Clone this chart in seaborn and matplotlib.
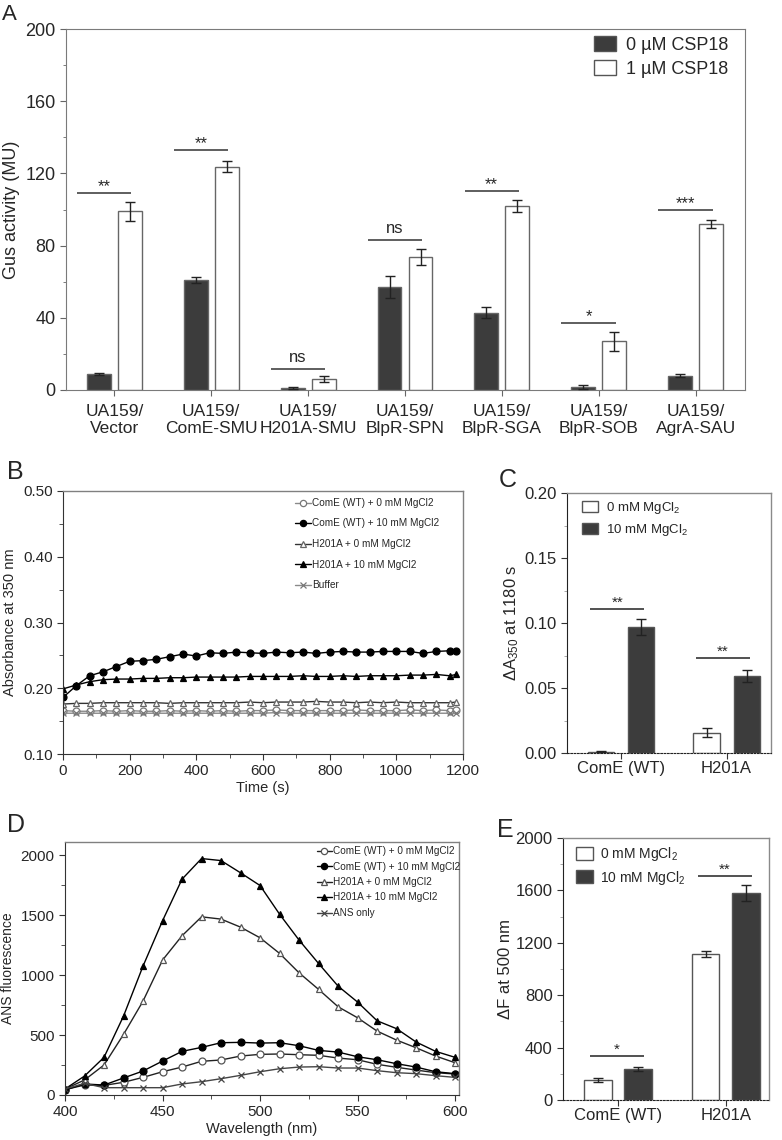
import numpy as np
import pandas as pd
import matplotlib
matplotlib.use('Agg')
import matplotlib.pyplot as plt
import matplotlib.patches as mpatches
from matplotlib.ticker import MultipleLocator
import seaborn as sns

# ---- Panel A data ----
strains = ['UA159/\nVector', 'UA159/\nComE-SMU', 'UA159/\nH201A-SMU', 'UA159/\nBlpR-SPN',
           'UA159/\nBlpR-SGA', 'UA159/\nBlpR-SOB', 'UA159/\nAgrA-SAU']
csp_levels = ['0 µM CSP18', '1 µM CSP18']
gus_0 = [8.9, 61.0, 0.9, 56.9, 42.9, 1.8, 8.0]
gus_0_err = [0.4, 1.8, 0.5, 6.1, 2.9, 1.0, 0.7]
gus_1 = [98.9, 123.8, 6.1, 73.8, 101.8, 27.0, 91.9]
gus_1_err = [5.4, 3.3, 1.7, 4.4, 3.2, 5.3, 2.3]
sig_a = ['**', '**', 'ns', 'ns', '**', '*', '***']
sig_a_y = [109.1, 132.7, 11.6, 83.2, 110.2, 37.0, 99.8]

# ---- Panel B data ----
time_b = [0, 40, 80, 120, 160, 200, 240, 280, 320, 360, 400, 440, 480, 520, 560, 600,
          640, 680, 720, 760, 800, 840, 880, 920, 960, 1000, 1040, 1080, 1120, 1160, 1180]
b_come_0 = [0.166, 0.165, 0.165, 0.166, 0.165, 0.166, 0.165, 0.165, 0.166, 0.165, 0.166,
            0.165, 0.166, 0.165, 0.166, 0.166, 0.167, 0.166, 0.166, 0.166, 0.166, 0.166,
            0.167, 0.166, 0.166, 0.166, 0.167, 0.166, 0.167, 0.166, 0.167]
b_come_10 = [0.186, 0.204, 0.219, 0.225, 0.233, 0.241, 0.242, 0.244, 0.248, 0.252, 0.249,
             0.254, 0.253, 0.255, 0.254, 0.253, 0.255, 0.254, 0.255, 0.253, 0.255, 0.256,
             0.255, 0.255, 0.256, 0.256, 0.256, 0.253, 0.256, 0.257, 0.257]
b_h201a_0 = [0.176, 0.177, 0.177, 0.178, 0.178, 0.178, 0.178, 0.178, 0.177, 0.178, 0.178,
             0.178, 0.178, 0.178, 0.179, 0.178, 0.179, 0.179, 0.179, 0.180, 0.179, 0.179,
             0.178, 0.179, 0.178, 0.179, 0.178, 0.178, 0.178, 0.178, 0.179]
b_h201a_10 = [0.199, 0.205, 0.210, 0.213, 0.214, 0.214, 0.215, 0.215, 0.216, 0.216, 0.217,
              0.217, 0.217, 0.217, 0.218, 0.218, 0.218, 0.218, 0.219, 0.218, 0.218, 0.219,
              0.218, 0.219, 0.219, 0.219, 0.220, 0.220, 0.221, 0.219, 0.221]
b_buffer = [0.162, 0.162, 0.162, 0.162, 0.162, 0.162, 0.162, 0.162, 0.162, 0.162, 0.162,
            0.162, 0.162, 0.162, 0.162, 0.162, 0.163, 0.162, 0.162, 0.162, 0.162, 0.162,
            0.162, 0.162, 0.162, 0.162, 0.162, 0.162, 0.162, 0.162, 0.162]

# ---- Panel C data ----
proteins = ['ComE (WT)', 'H201A']
mg_levels = ['0 mM MgCl$_2$', '10 mM MgCl$_2$']
dA_0 = [0.001, 0.0155]
dA_0_err = [0.0004, 0.0035]
dA_10 = [0.0967, 0.0592]
dA_10_err = [0.0062, 0.0046]
sig_c = ['**', '**']
sig_c_y = [0.111, 0.0733]

# ---- Panel D data ----
wavelength = [400, 410, 420, 430, 440, 450, 460, 470, 480, 490, 500, 510, 520, 530, 540,
              550, 560, 570, 580, 590, 600]
d_come_0 = [45, 83, 80, 106, 147, 194, 233, 281, 292, 325, 339, 342, 336, 331, 308, 294,
            256, 231, 208, 186, 175]
d_come_10 = [42, 92, 83, 142, 200, 283, 364, 397, 436, 439, 433, 436, 411, 372, 358, 319,
             294, 261, 233, 194, 178]
d_h201a_0 = [50, 125, 250, 505, 783, 1125, 1328, 1486, 1467, 1400, 1311, 1181, 1019, 881,
             736, 644, 533, 458, 394, 325, 269]
d_h201a_10 = [50, 158, 314, 658, 1075, 1453, 1800, 1972, 1955, 1853, 1747, 1508, 1292,
              1097, 908, 775, 619, 553, 442, 364, 314]
d_ans = [50, 97, 61, 61, 61, 61, 92, 111, 136, 164, 194, 219, 233, 236, 225, 225, 203,
         186, 178, 161, 147]

# ---- Panel E data ----
dF_0 = [150, 1116]
dF_0_err = [16, 22]
dF_10 = [236, 1578]
dF_10_err = [15, 60]
sig_e = ['*', '**']
sig_e_y = [339, 1712]

line_labels_b = ['ComE (WT) + 0 mM MgCl2', 'ComE (WT) + 10 mM MgCl2',
                 'H201A + 0 mM MgCl2', 'H201A + 10 mM MgCl2', 'Buffer']
line_labels_d = ['ComE (WT) + 0 mM MgCl2', 'ComE (WT) + 10 mM MgCl2',
                 'H201A + 0 mM MgCl2', 'H201A + 10 mM MgCl2', 'ANS only']

sns.set_style('ticks')
plt.rcParams['font.family'] = ['Liberation Sans', 'DejaVu Sans']
plt.rcParams['mathtext.fontset'] = 'custom'
plt.rcParams['mathtext.rm'] = 'Liberation Sans'
plt.rcParams['mathtext.it'] = 'Liberation Sans:italic'
plt.rcParams['mathtext.bf'] = 'Liberation Sans:bold'

W, H = 782, 1140
DARK = '#3c3c3c'
fig = plt.figure(figsize=(W / 100, H / 100), dpi=100)


def px_axes(l, t, r, b):
    return fig.add_axes([l / W, 1 - b / H, (r - l) / W, (b - t) / H])


def fig_pt(x, y):
    return (x / W, 1 - y / H)


def style_box(ax, left='#333333', other='#808080'):
    for s in ['top', 'right']:
        ax.spines[s].set_color(other)
        ax.spines[s].set_linewidth(1.0)
    ax.spines['left'].set_color(left)
    ax.spines['bottom'].set_color(left)


def add_errbars(ax, errs_by_level):
    for cont, errs in zip(ax.containers, errs_by_level):
        xs = [p.get_x() + p.get_width() / 2 for p in cont.patches]
        ys = [p.get_height() for p in cont.patches]
        ax.errorbar(xs, ys, yerr=errs, fmt='none', ecolor='#222222',
                    elinewidth=1.0, capsize=3.5, capthick=1.0, zorder=4)


def add_sig(ax, labels, ys, lo, hi, fs, color='#333333'):
    for i, (lab, y) in enumerate(zip(labels, ys)):
        ax.plot([i + lo, i + hi], [y, y], color=color, lw=1.1, solid_capstyle='butt')
        dy = 5 if lab == 'ns' else 1.5
        ax.annotate(lab, xy=(i + (lo + hi) / 2, y), xytext=(0, dy),
                    textcoords='offset points', ha='center', va='baseline', fontsize=fs)


# ================= Panel A =================
axA = px_axes(66, 29, 745, 390)
dfA = pd.DataFrame({
    'strain': strains * 2,
    'csp': [csp_levels[0]] * len(strains) + [csp_levels[1]] * len(strains),
    'gus': gus_0 + gus_1,
})
sns.barplot(data=dfA, x='strain', y='gus', hue='csp', order=strains, hue_order=csp_levels,
            palette={csp_levels[0]: DARK, csp_levels[1]: 'white'}, width=0.64, gap=0.23,
            errorbar=None, edgecolor='#666666', linewidth=1.0, ax=axA, legend=False)
add_errbars(axA, [gus_0_err, gus_1_err])
add_sig(axA, sig_a, sig_a_y, -0.385, 0.175, 12)
axA.set_xlim(-0.5, 6.51)
axA.set_ylim(0, 200)
axA.yaxis.set_major_locator(MultipleLocator(40))
axA.yaxis.set_minor_locator(MultipleLocator(20))
axA.set_xticks(range(len(strains)))
axA.set_xticklabels(strains, fontsize=12.5, linespacing=1.2)
axA.tick_params(axis='y', labelsize=13, length=4, color='#666666')
axA.tick_params(axis='y', which='minor', length=2.5, color='#666666')
axA.tick_params(axis='x', length=4, color='#666666', pad=6)
axA.set_xlabel('')
axA.set_ylabel('Gus activity (MU)', fontsize=13)
for s in axA.spines.values():
    s.set_color('#7a7a7a')
hA = [mpatches.Patch(facecolor=DARK, edgecolor='#555555'),
      mpatches.Patch(facecolor='white', edgecolor='#555555')]
axA.legend(hA, csp_levels, loc='upper left', bbox_to_anchor=fig_pt(594, 36),
           bbox_transform=fig.transFigure, frameon=False, fontsize=13,
           handlelength=1.2, handleheight=0.9, handletextpad=0.6, labelspacing=0.35,
           borderpad=0, borderaxespad=0)

# ================= Panel B =================
axB = px_axes(63, 491, 463, 754)
b_series = [b_come_0, b_come_10, b_h201a_0, b_h201a_10, b_buffer]
b_styles = [
    dict(marker='o', color='#8a8a8a', markerfacecolor='white', markeredgecolor='#777777'),
    dict(marker='o', color='black', markerfacecolor='black', markeredgecolor='black'),
    dict(marker='^', color='#333333', markerfacecolor='white', markeredgecolor='#666666'),
    dict(marker='^', color='black', markerfacecolor='black', markeredgecolor='black'),
    dict(marker='x', color='#8a8a8a', markerfacecolor='none', markeredgecolor='#777777'),
]
for vals, lab, st in zip(b_series, line_labels_b, b_styles):
    sns.lineplot(x=time_b, y=vals, ax=axB, label=lab, markersize=5, linewidth=1.0,
                 markeredgewidth=0.9, **st)
axB.set_xlim(0, 1200)
axB.set_ylim(0.10, 0.50)
axB.xaxis.set_major_locator(MultipleLocator(200))
axB.xaxis.set_minor_locator(MultipleLocator(100))
axB.yaxis.set_major_locator(MultipleLocator(0.10))
axB.yaxis.set_minor_locator(MultipleLocator(0.05))
axB.yaxis.set_major_formatter(matplotlib.ticker.FormatStrFormatter('%.2f'))
axB.tick_params(labelsize=11, length=4, color='#333333')
axB.tick_params(which='minor', length=3, color='#333333')
axB.set_xlabel('Time (s)', fontsize=10.5, labelpad=2)
axB.set_ylabel('Absorbance at 350 nm', fontsize=10.5)
style_box(axB, left='#333333', other='#808080')
axB.legend(loc='upper left', bbox_to_anchor=fig_pt(295, 498), bbox_transform=fig.transFigure,
           frameon=False, fontsize=7.2, handlelength=1.6, handletextpad=0.15,
           labelspacing=1.05, borderpad=0, borderaxespad=0, markerscale=0.9)

# ================= Panel C =================
axC = px_axes(567, 493, 771, 753)
dfC = pd.DataFrame({
    'protein': proteins * 2,
    'mg': [mg_levels[0]] * 2 + [mg_levels[1]] * 2,
    'val': dA_0 + dA_10,
})
sns.barplot(data=dfC, x='protein', y='val', hue='mg', order=proteins, hue_order=mg_levels,
            palette={mg_levels[0]: 'white', mg_levels[1]: DARK}, width=0.76, gap=0.35,
            errorbar=None, edgecolor='#555555', linewidth=1.0, ax=axC, legend=False)
add_errbars(axC, [dA_0_err, dA_10_err])
add_sig(axC, sig_c, sig_c_y, -0.29, 0.22, 11, color='#222222')
axC.set_xlim(-0.51, 1.42)
axC.set_ylim(0, 0.20)
axC.yaxis.set_major_locator(MultipleLocator(0.05))
axC.yaxis.set_minor_locator(MultipleLocator(0.025))
axC.yaxis.set_major_formatter(matplotlib.ticker.FormatStrFormatter('%.2f'))
axC.set_xticks(range(len(proteins)))
axC.set_xticklabels(proteins, fontsize=12)
axC.tick_params(axis='y', labelsize=12, length=4, color='#333333')
axC.tick_params(axis='y', which='minor', length=2.5, color='#999999')
axC.tick_params(axis='x', length=4, color='#333333', pad=2)
axC.set_xlabel('')
axC.set_ylabel('\u0394A$_{350}$ at 1180 s', fontsize=12, labelpad=2)
style_box(axC, left='#222222', other='#8a8a8a')
axC.spines['bottom'].set_linestyle((0, (1.5, 1.5)))
axC.spines['bottom'].set_color('#222222')
hC = [mpatches.Patch(facecolor='white', edgecolor='#555555'),
      mpatches.Patch(facecolor=DARK, edgecolor='#555555')]
axC.legend(hC, mg_levels, loc='upper left', bbox_to_anchor=fig_pt(582, 500),
           bbox_transform=fig.transFigure, frameon=False, fontsize=9.5,
           handlelength=1.25, handleheight=0.95, handletextpad=0.55, labelspacing=0.45,
           borderpad=0, borderaxespad=0)

# ================= Panel D =================
axD = px_axes(65, 842, 459, 1095)
d_series = [d_come_0, d_come_10, d_h201a_0, d_h201a_10, d_ans]
d_styles = [
    dict(marker='o', color='#222222', markerfacecolor='white', markeredgecolor='#555555'),
    dict(marker='o', color='black', markerfacecolor='black', markeredgecolor='black'),
    dict(marker='^', color='#222222', markerfacecolor='white', markeredgecolor='#555555'),
    dict(marker='^', color='black', markerfacecolor='black', markeredgecolor='black'),
    dict(marker='x', color='#444444', markerfacecolor='none', markeredgecolor='#444444'),
]
for vals, lab, st in zip(d_series, line_labels_d, d_styles):
    sns.lineplot(x=wavelength, y=vals, ax=axD, label=lab, markersize=5, linewidth=1.0,
                 markeredgewidth=0.9, **st)
axD.set_xlim(400, 602)
axD.set_ylim(0, 2110)
axD.xaxis.set_major_locator(MultipleLocator(50))
axD.xaxis.set_minor_locator(MultipleLocator(25))
axD.yaxis.set_major_locator(MultipleLocator(500))
axD.yaxis.set_minor_locator(MultipleLocator(250))
axD.tick_params(labelsize=11, length=4, color='#333333')
axD.tick_params(which='minor', length=3, color='#333333')
axD.set_xlabel('Wavelength (nm)', fontsize=10.5, labelpad=2)
axD.set_ylabel('ANS fluorescence', fontsize=10)
style_box(axD, left='#333333', other='#808080')
axD.legend(loc='upper left', bbox_to_anchor=fig_pt(317, 846), bbox_transform=fig.transFigure,
           frameon=False, fontsize=7.2, handlelength=1.45, handletextpad=0.15,
           labelspacing=0.55, borderpad=0, borderaxespad=0, markerscale=0.9)

# ================= Panel E =================
axE = px_axes(563, 838, 769, 1100)
dfE = pd.DataFrame({
    'protein': proteins * 2,
    'mg': [mg_levels[0]] * 2 + [mg_levels[1]] * 2,
    'val': dF_0 + dF_10,
})
sns.barplot(data=dfE, x='protein', y='val', hue='mg', order=proteins, hue_order=mg_levels,
            palette={mg_levels[0]: 'white', mg_levels[1]: DARK}, width=0.75, gap=0.32,
            errorbar=None, edgecolor='#555555', linewidth=1.0, ax=axE, legend=False)
add_errbars(axE, [dF_0_err, dF_10_err])
add_sig(axE, sig_e, sig_e_y, -0.26, 0.24, 11, color='#222222')
axE.set_xlim(-0.51, 1.40)
axE.set_ylim(0, 2000)
axE.yaxis.set_major_locator(MultipleLocator(400))
axE.yaxis.set_minor_locator(MultipleLocator(200))
axE.set_xticks(range(len(proteins)))
axE.set_xticklabels(proteins, fontsize=12)
axE.tick_params(axis='y', labelsize=12, length=4, color='#333333')
axE.tick_params(axis='y', which='minor', length=2.5, color='#999999')
axE.tick_params(axis='x', length=4, color='#333333', pad=2)
axE.set_xlabel('')
axE.set_ylabel('\u0394F at 500 nm', fontsize=12, labelpad=2)
style_box(axE, left='#222222', other='#8a8a8a')
axE.spines['bottom'].set_linestyle((0, (1.5, 1.5)))
axE.spines['bottom'].set_color('#222222')
hE = [mpatches.Patch(facecolor='white', edgecolor='#555555'),
      mpatches.Patch(facecolor=DARK, edgecolor='#555555')]
axE.legend(hE, mg_levels, loc='upper left', bbox_to_anchor=fig_pt(576, 845),
           bbox_transform=fig.transFigure, frameon=False, fontsize=10,
           handlelength=1.2, handleheight=1.05, handletextpad=0.55, labelspacing=0.4,
           borderpad=0, borderaxespad=0)

# ---- panel letters ----
for lab, x, y, fs in [('A', 2, 4, 16), ('B', 7, 460, 18), ('C', 499, 468, 18),
                      ('D', 7, 813, 18), ('E', 497, 818, 18)]:
    fig.text(x / W, 1 - y / H, lab, fontsize=fs, ha='left', va='top')

fig.savefig('out.png', dpi=100)
